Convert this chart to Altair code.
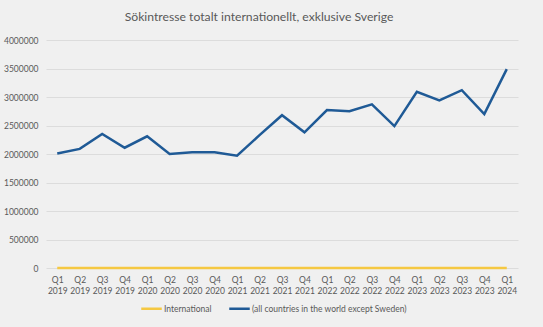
import altair as alt
import pandas as pd

quarters = ["Q1 2019", "Q2 2019", "Q3 2019", "Q4 2019",
            "Q1 2020", "Q2 2020", "Q3 2020", "Q4 2020",
            "Q1 2021", "Q2 2021", "Q3 2021", "Q4 2021",
            "Q1 2022", "Q2 2022", "Q3 2022", "Q4 2022",
            "Q1 2023", "Q2 2023", "Q3 2023", "Q4 2023",
            "Q1 2024"]
international = [0] * 21
world_ex_sweden = [2010000, 2090000, 2350000, 2110000,
                   2310000, 2000000, 2030000, 2030000,
                   1970000, 2330000, 2680000, 2380000,
                   2770000, 2750000, 2870000, 2490000,
                   3090000, 2940000, 3120000, 2700000,
                   3490000]
series_names = ["International", "(all countries in the world except Sweden)"]
series_colors = ["#F5C842", "#1F5A96"]

rows = []
for i, q in enumerate(quarters):
    rows.append({"q": q, "order": i, "series": series_names[0], "value": international[i]})
    rows.append({"q": q, "order": i, "series": series_names[1], "value": world_ex_sweden[i]})
df = pd.DataFrame(rows)

font = "Lato"
chart = alt.Chart(df).mark_line(strokeWidth=2.5).encode(
    x=alt.X("q:N", sort=quarters, title=None,
            scale=alt.Scale(padding=0.5),
            axis=alt.Axis(labelExpr="split(datum.label, ' ')", labelAngle=0, ticks=False,
                          domain=False, grid=False, labelPadding=7, labelFontSize=8.5,
                          labelColor="#595959", labelFont=font, labelLineHeight=11)),
    y=alt.Y("value:Q", title=None,
            scale=alt.Scale(domain=[0, 4000000], nice=False),
            axis=alt.Axis(values=list(range(0, 4000001, 500000)), format="d", ticks=False, domain=False,
                          labelPadding=8, labelFontSize=8.5, labelColor="#595959", labelFont=font,
                          gridColor="#dcdcdc", gridWidth=1)),
    color=alt.Color("series:N", sort=series_names,
                    scale=alt.Scale(domain=series_names, range=series_colors),
                    legend=alt.Legend(title=None, orient="none", legendX=94, legendY=257,
                                      direction="horizontal", symbolType="stroke",
                                      symbolSize=420, symbolStrokeWidth=2.5,
                                      labelFontSize=8.5, labelColor="#595959", labelFont=font,
                                      columnPadding=12, labelOffset=1)),
    detail="series:N",
).properties(
    width=472, height=228,
    title=alt.TitleParams("Sökintresse totalt internationellt, exklusive Sverige",
                          fontSize=12.2, fontWeight="normal", color="#595959", font=font,
                          anchor="middle", dx=-23, offset=13),
    autosize=alt.AutoSizeParams(type="none"),
    padding={"left": 46, "top": 40, "right": 25, "bottom": 59},
    background="#f0f0f0",
).configure_view(stroke=None)

chart.save("out.html", embed_options={"renderer": "svg", "actions": False})
